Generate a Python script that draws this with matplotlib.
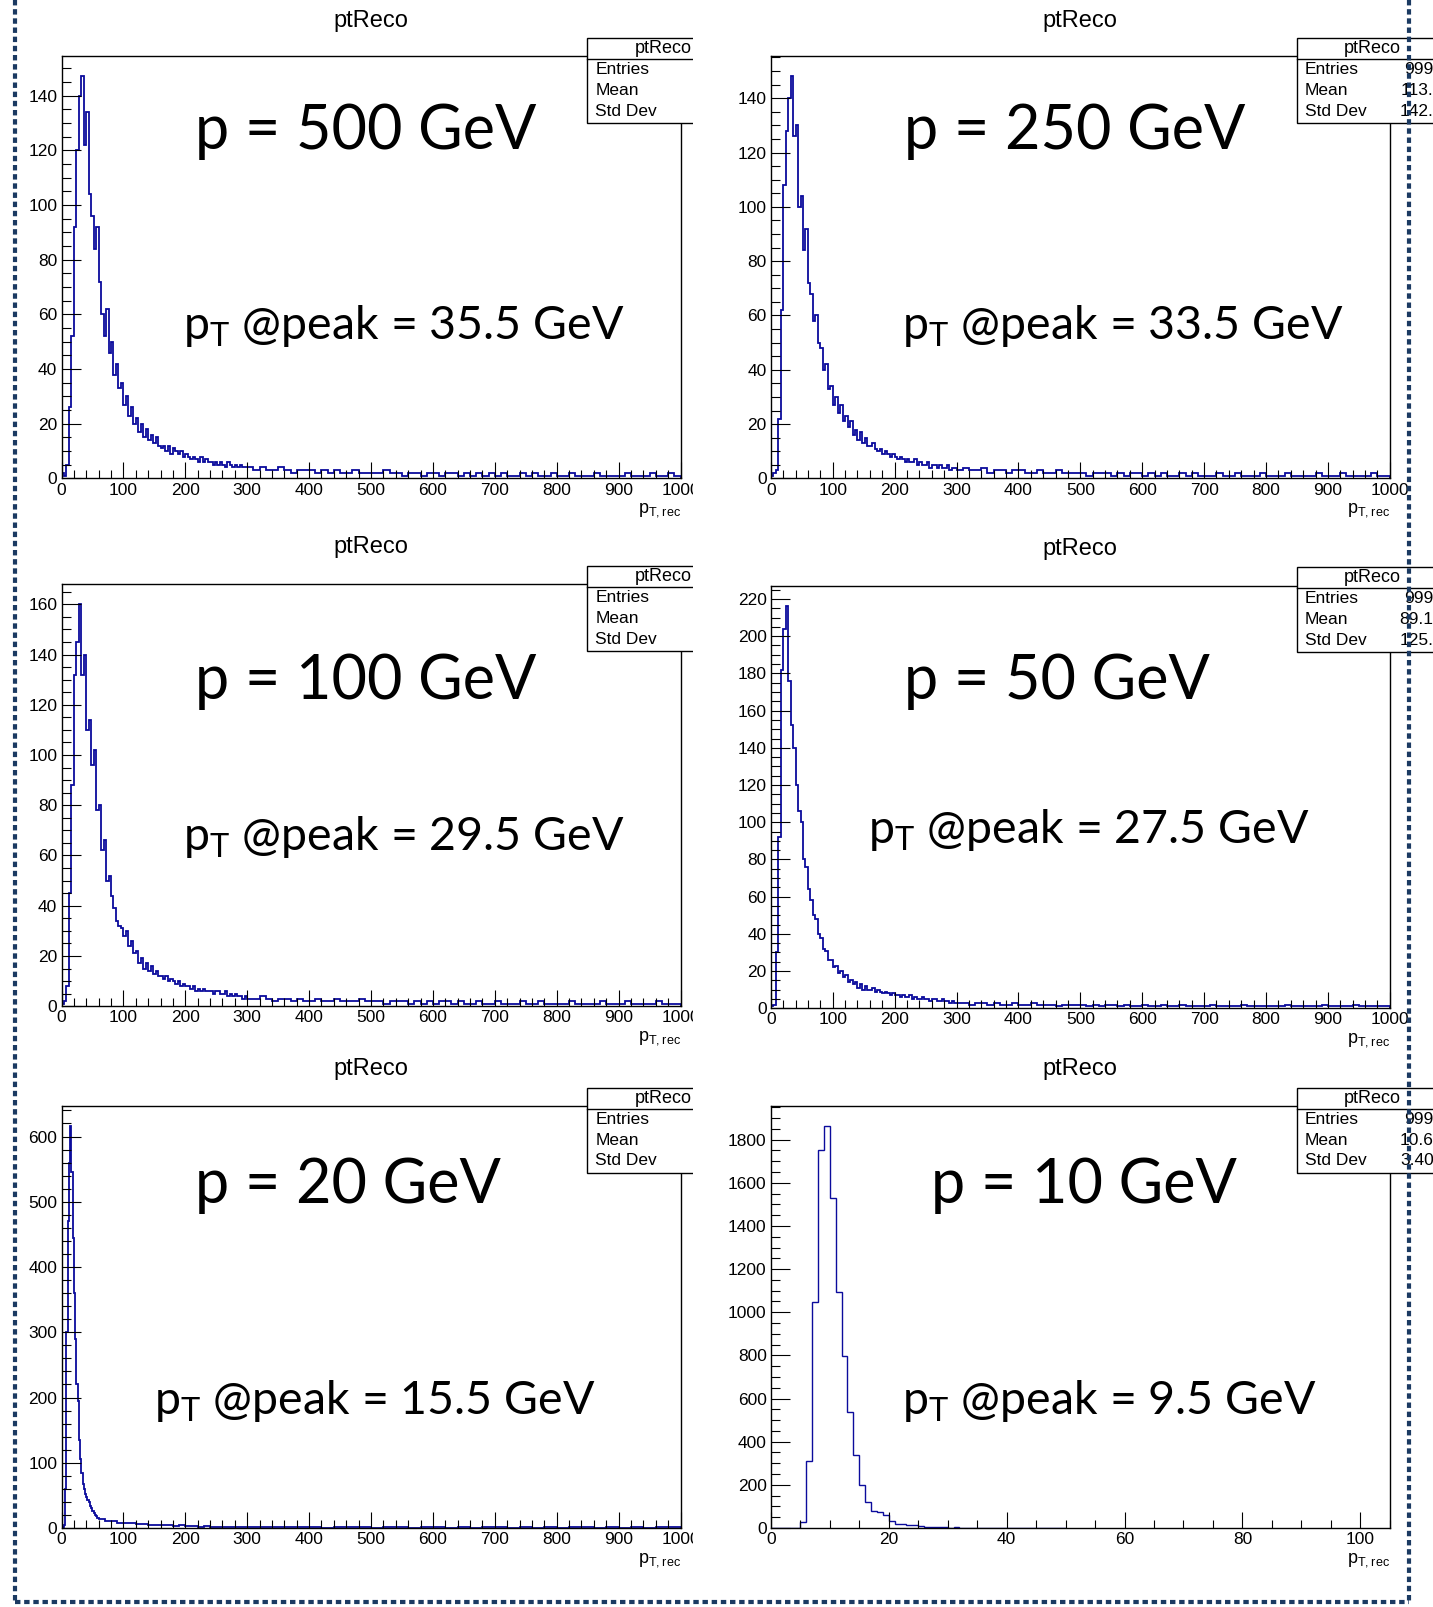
import numpy as np
import matplotlib.pyplot as plt
from matplotlib.transforms import Bbox, TransformedBbox
from matplotlib.lines import Line2D
from matplotlib.patches import Rectangle

# ---- data (bin contents) ----
# segments: (bin width in GeV, contents)
p500_fine = [2, 1, 5, 26, 52, 92, 120, 140, 147, 122,
             134, 104, 96, 84, 92, 72, 60, 52, 62, 46,
             50, 38, 42, 33, 35, 27, 30, 23, 26, 20,
             22, 17, 20, 15, 18, 14, 16, 13, 15, 12,
             11, 12, 10, 12, 9, 11, 10, 9, 10, 8,
             9, 8, 7, 8, 7, 6, 8, 6, 7, 6,
             6, 5, 6, 5, 6, 5, 4, 6, 5, 4,
             5, 4, 5, 4, 4]
p500_tail = [4, 3, 4, 3, 3, 4, 3, 2, 3, 3,
             3, 2, 3, 2, 3, 2, 2, 3, 2, 2,
             2, 2, 3, 2, 2, 1, 2, 2, 1, 2,
             2, 1, 2, 2, 1, 2, 1, 2, 1, 2,
             1, 2, 1, 1, 2, 1, 2, 1, 1, 2,
             1, 1, 2, 1, 1, 1, 2, 1, 1, 1,
             1, 2, 1, 1, 1, 2, 1, 1, 2, 1]

p250_fine = [1, 2, 3, 22, 62, 108, 128, 140, 148, 126,
             130, 100, 104, 84, 92, 72, 68, 58, 60, 50,
             48, 40, 42, 33, 34, 27, 30, 24, 27, 21,
             23, 19, 21, 16, 18, 14, 17, 13, 15, 12,
             12, 13, 11, 10, 11, 9, 10, 9, 8, 9,
             8, 7, 8, 7, 6, 7, 6, 6, 7, 5,
             6, 5, 5, 6, 4, 5, 5, 4, 5, 4,
             4, 5, 3, 4, 4]
p250_tail = [3, 4, 3, 3, 4, 2, 3, 3, 2, 3,
             3, 2, 2, 3, 2, 2, 3, 2, 2, 2,
             2, 1, 2, 2, 2, 1, 2, 1, 2, 2,
             1, 2, 1, 2, 1, 1, 2, 1, 2, 1,
             1, 1, 2, 1, 1, 2, 1, 1, 1, 2,
             1, 1, 1, 2, 1, 1, 1, 1, 2, 1,
             1, 1, 2, 1, 1, 1, 1, 2, 1, 1]

p100_fine = [1, 2, 8, 45, 88, 132, 145, 160, 132, 140,
             110, 114, 96, 102, 78, 80, 62, 66, 50, 52,
             44, 39, 34, 32, 31, 28, 30, 24, 26, 21,
             22, 17, 19, 15, 17, 14, 16, 13, 14, 12,
             12, 11, 12, 10, 11, 10, 9, 10, 8, 9,
             8, 8, 7, 8, 6, 7, 6, 7, 6, 6,
             6, 5, 6, 6, 5, 5, 6, 4, 5, 4,
             5, 4, 4, 3, 4]
p100_tail = [3, 3, 4, 3, 2, 3, 3, 2, 3, 2,
             2, 3, 2, 2, 3, 2, 2, 2, 3, 2,
             2, 2, 1, 2, 2, 2, 1, 2, 1, 2,
             1, 2, 2, 1, 2, 1, 1, 2, 1, 1,
             2, 1, 1, 1, 2, 1, 1, 2, 1, 1,
             1, 1, 2, 1, 1, 1, 1, 2, 1, 1,
             1, 2, 1, 1, 1, 1, 2, 1, 1, 1]

p50_fine = [1, 2, 30, 92, 182, 204, 216, 176, 152, 140,
            120, 106, 100, 80, 76, 64, 58, 50, 48, 40,
            38, 32, 31, 26, 26, 22, 23, 19, 20, 17,
            18, 14, 15, 13, 14, 11, 13, 10, 12, 10,
            10, 11, 9, 10, 9, 8, 9, 8, 7, 8,
            7, 7, 6, 7, 6, 6, 7, 5, 6, 5,
            5, 6, 5, 5, 4, 5, 5, 4, 4, 5,
            4, 4, 3, 4, 3]
p50_tail = [3, 3, 2, 3, 3, 2, 3, 2, 2, 3,
            2, 2, 3, 2, 2, 2, 1, 2, 2, 2,
            2, 1, 2, 1, 2, 2, 1, 2, 1, 1,
            2, 1, 1, 2, 1, 1, 2, 1, 1, 1,
            1, 2, 1, 1, 1, 1, 2, 1, 1, 1,
            1, 1, 1, 2, 1, 1, 1, 1, 1, 2,
            1, 1, 1, 1, 2, 1, 1, 1, 1, 1]

p20_fine = [0, 1, 5, 60, 300, 470, 560, 616, 545, 445,
            360, 290, 220, 195, 135, 105, 85, 68, 60, 52,
            48, 43, 40, 34, 30, 26, 23, 20, 18, 16]
p20_mid = [14, 11, 10, 8, 8, 7, 6, 6, 5, 5, 4, 4,
           3, 4, 3, 3, 2, 3, 2, 2, 2, 1, 2, 1]
p20_tail = [1, 1, 2, 1, 1, 1, 0, 1, 1, 1, 0, 1,
            1, 0, 1, 1, 0, 1, 0, 1, 1, 0, 1, 0,
            1, 0, 1, 1, 0, 1, 0, 1, 0, 1, 1]

p10_bins = [0, 0, 0, 0, 0, 28, 309, 1049, 1750, 1863,
            1530, 1094, 798, 539, 340, 200, 122, 81, 76, 58,
            31, 20, 18, 15, 12, 8, 6, 5, 6, 3,
            2, 4, 1, 1, 0, 1, 0, 0, 0, 0,
            0, 2, 0, 0, 0, 0, 0, 0, 0, 0]

panels = [
    ("p = 500 GeV", "35.5", [(4, p500_fine), (10, p500_tail)], 1000, None),
    ("p = 250 GeV", "33.5", [(4, p250_fine), (10, p250_tail)], 1000,
     ("9999", "113.4", "142.1")),
    ("p = 100 GeV", "29.5", [(4, p100_fine), (10, p100_tail)], 1000, None),
    ("p = 50 GeV", "27.5", [(4, p50_fine), (10, p50_tail)], 1000,
     ("9999", "89.14", "125.6")),
    ("p = 20 GeV", "15.5", [(2, p20_fine), (10, p20_mid), (20, p20_tail)], 1000, None),
    ("p = 10 GeV", "9.5", [(1, p10_bins)], 105,
     ("9999", "10.63", "3.404")),
]


def build(segments):
    edges = [0.0]
    vals = []
    for w, v in segments:
        for c in v:
            edges.append(edges[-1] + w)
            vals.append(c)
    return np.array(vals, float), np.array(edges)


W, H = 1433, 1607
fig = plt.figure(figsize=(W / 100, H / 100), dpi=100)

col_x = [61.5, 770.8]
ax_w = 619.0
ax_h = 422.0
tops = [56.4, 56.4, 584.2, 586.3, 1106.0, 1106.0]
title_y = [20.5, 20.5, 547.4, 549.0, 1069.0, 1069.0]
box_top = [37.9, 37.9, 565.8, 566.8, 1087.5, 1087.5]
big_pos = [(195, 131), (904, 131), (195, 681), (904, 681), (195, 1186), (931, 1186)]
pt_pos = [(183, 326), (902, 326), (183, 837), (868, 830), (154, 1401), (902, 1401)]

hist_col = "#0b0b9c"
tick_font = "Liberation Sans"
big_font = "Lato"

left_clip = TransformedBbox(Bbox([[0, 0], [693 / W, 1]]), fig.transFigure)

for i, (lab, peak, segs, xmax, stats) in enumerate(panels):
    col = i % 2
    x0 = col_x[col]
    top = tops[i]
    ax = fig.add_axes([x0 / W, 1 - (top + ax_h) / H, ax_w / W, ax_h / H])
    vals, edges = build(segs)
    ax.stairs(vals, edges, color=hist_col, lw=1.0 if i == 5 else 1.3)
    ax.set_xlim(0, xmax)
    ax.set_ylim(0, 1.05 * vals.max())

    if xmax == 1000:
        ax.set_xticks(np.arange(0, 1001, 100))
        ax.set_xticks(np.arange(0, 1001, 20), minor=True)
    else:
        ax.set_xticks(np.arange(0, 101, 20))
        ax.set_xticks(np.arange(0, 106, 5), minor=True)
    ymax = 1.05 * vals.max()
    if ymax > 1000:
        ymaj, ymin = 200, 50
    elif ymax > 400:
        ymaj, ymin = 100, 20
    else:
        ymaj, ymin = 20, 5
    ax.set_yticks(np.arange(0, ymax, ymaj))
    ax.set_yticks(np.arange(0, ymax, ymin), minor=True)

    ax.tick_params(axis="both", which="both", direction="in", top=False, right=False,
                   width=0.8, colors="black", labelsize=12.5)
    ax.tick_params(axis="x", which="major", length=11.5, pad=3)
    ax.tick_params(axis="x", which="minor", length=5.8)
    ax.tick_params(axis="y", which="major", length=13.5, pad=3)
    ax.tick_params(axis="y", which="minor", length=6.5)
    for t in ax.get_xticklabels() + ax.get_yticklabels():
        t.set_fontfamily(tick_font)
    for s in ax.spines.values():
        s.set_linewidth(1.0)
        s.set_color("black")
    if col == 0:
        for t in ax.get_xticklabels():
            t.set_clip_box(left_clip)
            t.set_clip_on(True)

    # axis title
    fig.text((x0 + ax_w) / W, 1 - (top + ax_h + 32) / H, r"p$_{\mathregular{T,rec}}$",
             ha="right", va="center", fontsize=13, fontfamily=tick_font)
    # pad title
    fig.text((x0 + ax_w / 2) / W, 1 - title_y[i] / H, "ptReco",
             ha="center", va="center", fontsize=17, fontfamily=tick_font)

    # big annotations
    bx, by = big_pos[i]
    fig.text(bx / W, 1 - by / H, lab, ha="left", va="center",
             fontsize=44, fontfamily=big_font)
    px, py = pt_pos[i]
    fig.text(px / W, 1 - py / H, r"p$_{\mathregular{T}}$ @peak = " + peak + " GeV",
             ha="left", va="center", fontsize=33.5, fontfamily=big_font)

    # stats box
    bxl = 587.3 if col == 0 else 1296.6
    bt = box_top[i]
    bw, bh = 151.7, 85.0
    clip = left_clip if col == 0 else None
    rect = Rectangle((bxl / W, 1 - (bt + bh) / H), bw / W, bh / H, transform=fig.transFigure,
                     facecolor="white", edgecolor="black", lw=1.0, zorder=5)
    sep = Line2D([bxl / W, (bxl + bw) / W], [1 - (bt + 21.5) / H] * 2,
                 transform=fig.transFigure, color="black", lw=1.0, zorder=6)
    arts = [rect, sep]
    arts.append(fig.text((bxl + bw / 2) / W, 1 - (bt + 10.8) / H, "ptReco", ha="center",
                         va="center", fontsize=13, fontfamily=tick_font, zorder=7))
    for k, name in enumerate(["Entries", "Mean", "Std Dev"]):
        yy = 1 - (bt + 31.8 + 20.8 * k) / H
        arts.append(fig.text((bxl + 8) / W, yy, name, ha="left", va="center",
                             fontsize=12.5, fontfamily=tick_font, zorder=7))
        if stats is not None:
            fig.text((bxl + bw - 5) / W, yy, stats[k], ha="right", va="center",
                     fontsize=12.5, fontfamily=tick_font, zorder=7)
    fig.add_artist(rect)
    fig.add_artist(sep)
    if clip is not None:
        for a in arts:
            a.set_clip_box(clip)
            a.set_clip_on(True)

# dashed border
navy = "#1b3a62"
dash = (0, (1.3, 0.9))
for xs, ys in [([15.4, 15.4], [0, 1602]), ([15.4, 1409], [1602, 1602]), ([1409, 1409], [0, 1602])]:
    fig.add_artist(Line2D([x / W for x in xs], [1 - y / H for y in ys], transform=fig.transFigure,
                          color=navy, lw=3.0, linestyle=dash, solid_capstyle="butt",
                          dash_capstyle="butt", zorder=20))

fig.savefig("out.png", dpi=100)
